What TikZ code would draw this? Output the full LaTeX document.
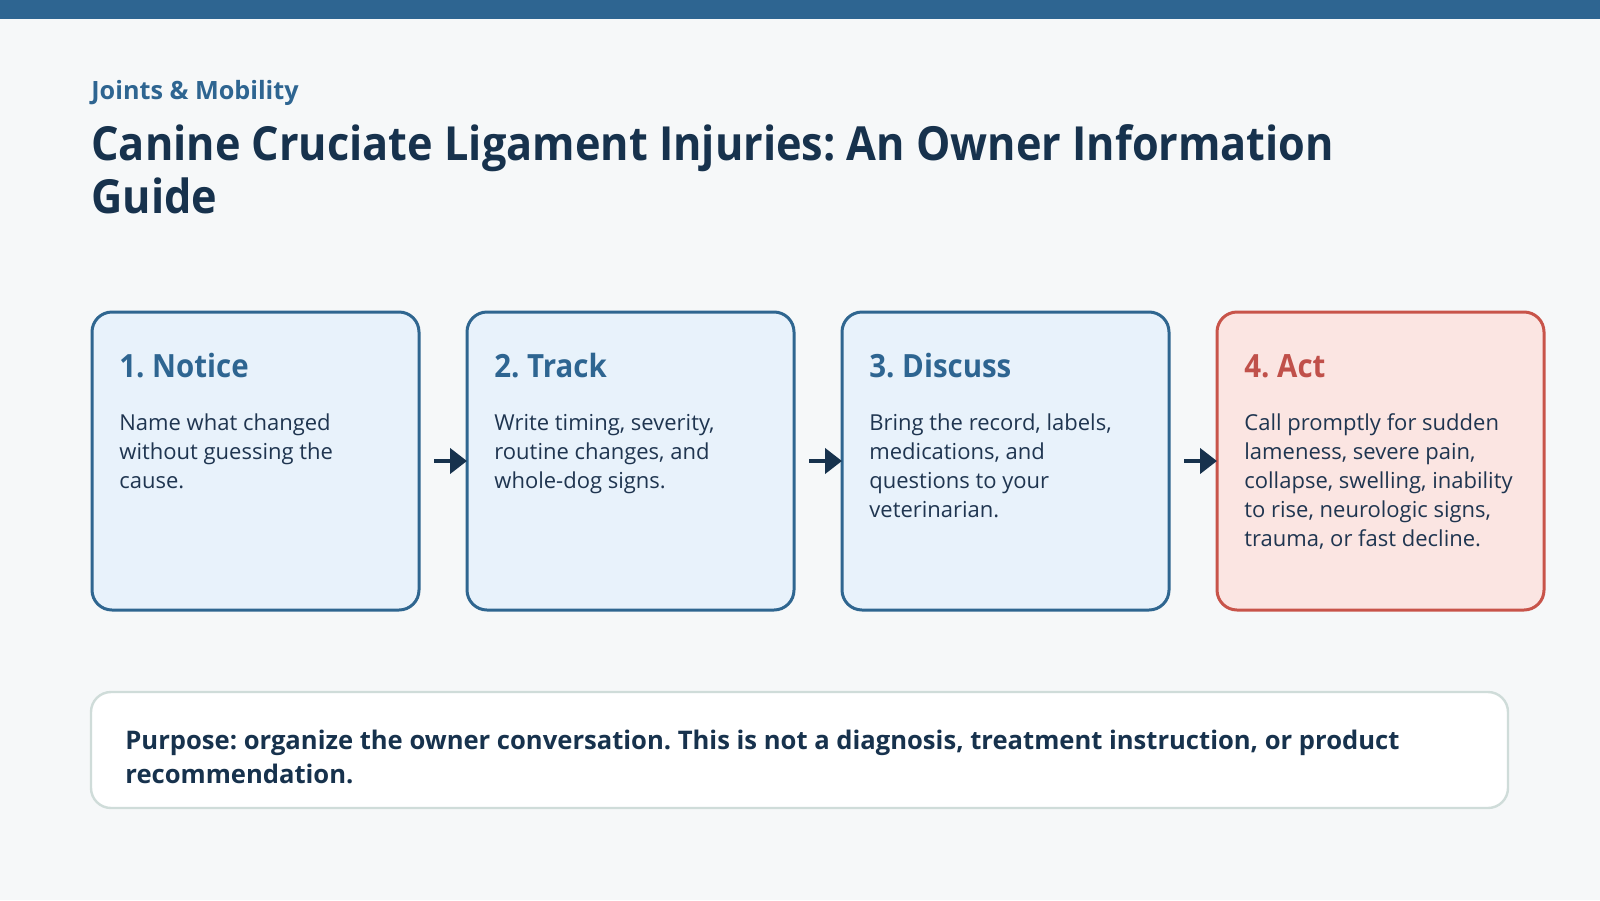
\documentclass[tikz,border=0pt]{standalone}
\usepackage{fontspec}
\setmainfont{Open Sans}
\newfontfamily\narrowfont[FakeStretch=0.92]{Open Sans}
\usetikzlibrary{arrows.meta}
\definecolor{bg}{HTML}{F6F8F9}
\definecolor{bar}{HTML}{2E6591}
\definecolor{accent}{HTML}{2E6591}
\definecolor{titlec}{HTML}{17324D}
\definecolor{bodyc}{HTML}{1F3550}
\definecolor{boxfill}{HTML}{E8F2FB}
\definecolor{boxline}{HTML}{2F6690}
\definecolor{redfill}{HTML}{FBE5E2}
\definecolor{redline}{HTML}{C8544A}
\definecolor{redhead}{HTML}{C0504A}
\definecolor{noteline}{HTML}{CFDCD9}
\definecolor{arrowc}{HTML}{17324D}
\tikzset{
  stepbox/.style={draw=boxline, fill=boxfill, line width=1.5pt, rounded corners=10pt,
    minimum width=163.5pt, minimum height=149pt, inner sep=0pt, outer sep=0pt, anchor=north west},
  redbox/.style={stepbox, draw=redline, fill=redfill},
  notebox/.style={draw=noteline, fill=white, line width=1.2pt, rounded corners=10pt,
    minimum width=708.5pt, minimum height=58pt, inner sep=0pt, outer sep=0pt, anchor=north west},
  headtxt/.style={anchor=base west, inner sep=0pt, text=accent, font=\narrowfont\bfseries\fontsize{16}{19}\selectfont},
  bodytxt/.style={anchor=base west, inner sep=0pt, text=bodyc},
  flow/.style={draw=arrowc, line width=2.2pt, -{Triangle[length=8.5pt,width=12.5pt]}}
}
\newcommand{\bodyfont}{\fontsize{11}{14.5}\selectfont}
\frenchspacing
\begin{document}
\begin{tikzpicture}[x=0.5pt,y=-0.5pt]
\useasboundingbox (0,0) rectangle (1600,900);
\fill[bg] (0,0) rectangle (1600,900);
\fill[bar] (0,0) rectangle (1600,19);

\node[anchor=base west, inner sep=0pt, text=accent, font=\bfseries\fontsize{12.6}{15}\selectfont] (sub) at (91,99) {Joints \& Mobility};
\node[anchor=base west, inner sep=0pt, text=titlec] (title) at (91,160)
  {\parbox[t]{760pt}{\narrowfont\bfseries\fontsize{23.5}{26.5}\selectfont Canine Cruciate Ligament Injuries: An Owner Information\\Guide}};

\node[stepbox] (b1) at (92,312) {};
\node[stepbox] (b2) at (467,312) {};
\node[stepbox] (b3) at (842,312) {};
\node[redbox] (b4) at (1217,312) {};

\node[headtxt] (h1) at (119,377) {1. Notice};
\node[headtxt] (h2) at (494,377) {2. Track};
\node[headtxt] (h3) at (869,377) {3. Discuss};
\node[headtxt, text=redhead] (h4) at (1244,377) {4. Act};

\node[bodytxt] (t1) at (119,430) {\parbox[t]{140pt}{\bodyfont Name what changed\\without guessing the\\cause.}};
\node[bodytxt] (t2) at (494,430) {\parbox[t]{140pt}{\bodyfont Write timing, severity,\\routine changes, and\\whole-dog signs.}};
\node[bodytxt] (t3) at (869,430) {\parbox[t]{140pt}{\bodyfont Bring the record, labels,\\medications, and\\questions to your\\veterinarian.}};
\node[bodytxt] (t4) at (1244,430) {\parbox[t]{140pt}{\bodyfont Call promptly for sudden\\lameness, severe pain,\\collapse, swelling, inability\\to rise, neurologic signs,\\trauma, or fast decline.}};

\coordinate (a1) at ([xshift=7.5pt]b1.east);
\coordinate (a2) at ([xshift=7.5pt]b2.east);
\coordinate (a3) at ([xshift=7.5pt]b3.east);
\draw[flow] (a1) -- (b2.west);
\draw[flow] (a2) -- (b3.west);
\draw[flow] (a3) -- (b4.west);

\node[notebox] (note) at (91,692) {};
\node[bodytxt, text=titlec] (nt) at (125,749) {\parbox[t]{690pt}{\bfseries\fontsize{12.8}{17}\selectfont Purpose: organize the owner conversation. This is not a diagnosis, treatment instruction, or product\\recommendation.}};
\end{tikzpicture}
\end{document}
